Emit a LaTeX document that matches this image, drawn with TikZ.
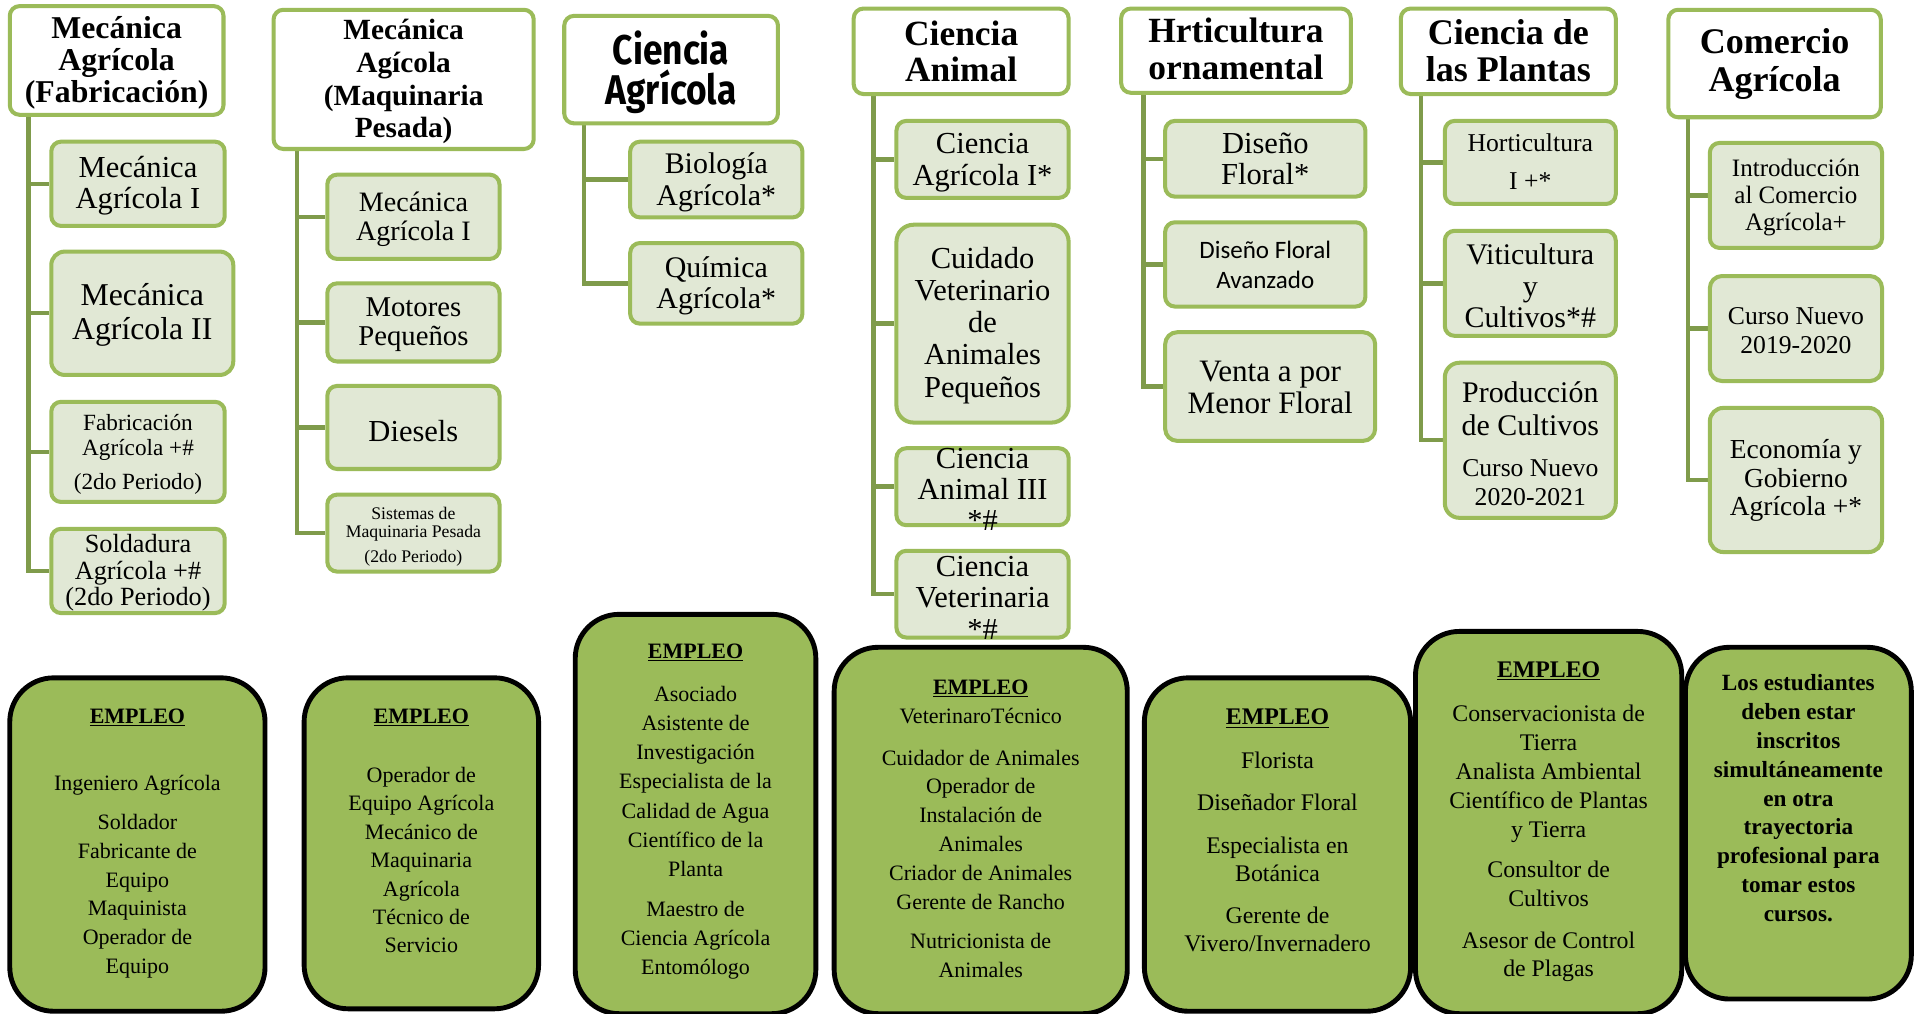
\documentclass[tikz,border=0pt]{standalone}
\usepackage{fontspec}
\setmainfont{Liberation Serif}
\newfontfamily\hsans{Fira Sans}[FakeStretch=0.85]
\newfontfamily\carl{Carlito}
\usetikzlibrary{backgrounds}
\definecolor{lg}{HTML}{9BBB59}
\definecolor{dg}{HTML}{7F9B4B}
\definecolor{cf}{HTML}{E1E8D5}
\newcommand\fs[2]{\fontsize{#1}{#2}\selectfont}
\newcommand\bx[9]{%
  \node[#2, minimum width={#5-#3}, minimum height={#6-#4}] (#1) at ({(#3+#5)/2},{(#4+#6)/2}) {};
  \node[txt, font=#8] (#1t) at ({(#3+#5)/2},{#7+3}) {#9};}
\begin{document}
\begin{tikzpicture}[x=1pt,y=-1pt,
  hdr/.style={draw=lg, fill=white, line width=3.3pt, rounded corners=8pt, inner sep=0pt},
  chl/.style={draw=lg, fill=cf, line width=3.3pt, rounded corners=8pt, inner sep=0pt},
  emp/.style={draw=black, fill=lg, line width=4pt, rounded corners=36pt, inner sep=0pt},
  trunk/.style={draw=dg, line width=3.6pt},
  txt/.style={inner sep=0pt, align=center, text=black}]
\useasboundingbox (0,0) rectangle (1568,830);
% ---------- column 1
\bx{h1}{hdr}{8}{5}{183}{94}{48.5}{\bfseries\fs{26}{26.5}}{Mecánica\\Agrícola\\(Fabricación)}
\bx{c1a}{chl}{42}{116}{184}{185}{149}{\fs{25}{26}}{Mecánica\\Agrícola I}
\bx{c1b}{chl,rounded corners=11pt}{42}{206}{191}{307}{255}{\fs{26}{28}}{Mecánica\\Agrícola II}
\bx{c1c}{chl}{42}{329}{184}{411}{369}{\fs{19}{20}}{Fabricación\\Agrícola +\#\\[8pt](2do Periodo)}
\bx{c1d}{chl}{42}{433}{184}{502}{466}{\fs{21.5}{22}}{Soldadura\\Agrícola +\#\\(2do Periodo)}
% ---------- column 2
\bx{h2}{hdr}{224}{8}{437}{122}{64}{\bfseries\fs{24}{26.7}}{Mecánica\\Agícola\\(Maquinaria\\Pesada)}
\bx{c2a}{chl}{268}{143}{409}{212}{176.5}{\fs{23}{23.5}}{Mecánica\\Agrícola I}
\bx{c2b}{chl}{268}{232}{409}{296}{263}{\fs{23.5}{24}}{Motores\\Pequeños}
\bx{c2c}{chl}{268}{316}{409}{384}{350}{\fs{25}{26}}{Diesels}
\bx{c2d}{chl}{268}{405}{409}{468}{436.5}{\fs{14.5}{15}}{Sistemas de\\Maquinaria Pesada\\[5pt](2do Periodo)}
% ---------- column 3
\bx{h3}{hdr}{462}{13}{637}{101}{56}{\hsans\bfseries\fs{34}{33}}{Ciencia\\Agrícola}
\bx{c3a}{chl}{516}{116}{657}{178}{146}{\fs{24.5}{26}}{Biología\\Agrícola*}
\bx{c3b}{chl}{516}{199}{657}{265}{231}{\fs{24.5}{26}}{Química\\Agrícola*}
% ---------- column 4
\bx{h4}{hdr}{699}{7}{875}{77}{39}{\bfseries\fs{29}{30}}{Ciencia\\Animal}
\bx{c4a}{chl}{734}{99}{875}{162}{130}{\fs{25}{26}}{Ciencia\\Agrícola I*}
\bx{c4b}{chl,rounded corners=14pt}{734}{184}{875}{346}{263.5}{\fs{25}{26.3}}{Cuidado\\Veterinario\\de\\Animales\\Pequeños}
\bx{c4c}{chl}{734}{367}{875}{430}{397.5}{\fs{25}{25.5}}{Ciencia\\Animal III\\*\#}
\bx{c4d}{chl}{734}{451}{875}{522}{486.5}{\fs{25}{25.5}}{Ciencia\\Veterinaria\\*\#}
% ---------- column 5
\bx{h5}{hdr}{918}{7}{1106}{76}{37}{\bfseries\fs{29}{30}}{Hrticultura\\ornamental}
\bx{c5a}{chl}{954}{99}{1118}{161}{127}{\fs{25}{26}}{Diseño\\Floral*}
\bx{c5b}{chl}{954}{182}{1118}{251}{214}{\carl\fs{20.5}{24}}{Diseño Floral\\Avanzado}
\bx{c5c}{chl,rounded corners=10pt}{954}{272}{1126}{361}{314}{\fs{25.5}{26}}{Venta a por\\Menor Floral}
% ---------- column 6
\bx{h6}{hdr}{1147}{7}{1323}{77}{38.5}{\bfseries\fs{29.5}{31}}{Ciencia de\\las Plantas}
\bx{c6a}{chl}{1183}{99}{1323}{167}{129.5}{\fs{21}{22}}{Horticultura\\[9pt]I +*}
\bx{c6b}{chl}{1183}{189}{1323}{275}{231}{\fs{24.5}{26}}{Viticultura\\y\\Cultivos*\#}
\bx{c6c}{chl,rounded corners=12pt}{1183}{297}{1323}{424}{331.5}{\fs{24.5}{27}}{Producción\\de Cultivos}
\node[txt, font=\fs{21}{24}] (c6ct2) at (1253,395) {Curso Nuevo\\2020-2021};
% ---------- column 7
\bx{h7}{hdr}{1366}{8}{1540}{96}{49.5}{\bfseries\fs{29.5}{31}}{Comercio\\Agrícola}
\bx{c7a}{chl}{1400}{117}{1541}{203}{159}{\fs{20.5}{22}}{Introducción\\al Comercio\\Agrícola+}
\bx{c7b}{chl,rounded corners=10pt}{1400}{226}{1541}{312}{268}{\fs{21}{24}}{Curso Nuevo\\2019-2020}
\bx{c7c}{chl,rounded corners=11pt}{1400}{334}{1541}{452}{390.5}{\fs{22.5}{23.5}}{Economía y\\Gobierno\\Agrícola +*}
% ---------- employment boxes
\bx{b1}{emp}{8}{555}{217}{828}{687.5}{\fs{18}{23.5}}{\underline{\textbf{EMPLEO}}\\[31.5pt]Ingeniero Agrícola\\[8.5pt]Soldador\\Fabricante de\\Equipo\\Maquinista\\Operador de\\Equipo}
\bx{b2}{emp}{249}{555}{441}{826}{677.5}{\fs{18}{23.3}}{\underline{\textbf{EMPLEO}}\\[24.7pt]Operador de\\Equipo Agrícola\\Mecánico de\\Maquinaria\\Agrícola\\Técnico de\\Servicio}
\bx{b3}{emp}{471}{503}{668}{830}{661.5}{\fs{18}{23.8}}{\underline{\textbf{EMPLEO}}\\[12pt]Asociado\\Asistente de\\Investigación\\Especialista de la\\Calidad de Agua\\Científico de la\\Planta\\[9.5pt]Maestro de\\Ciencia Agrícola\\Entomólogo}
\bx{b4}{emp}{683}{530}{923}{830}{675.5}{\fs{18}{23.6}}{\underline{\textbf{EMPLEO}}\\VeterinaroTécnico\\[10.4pt]Cuidador de Animales\\Operador de\\Instalación de\\Animales\\Criador de Animales\\Gerente de Rancho\\[8.4pt]Nutricionista de\\Animales}
\bx{b5}{emp}{937}{555}{1155}{828}{677}{\fs{19.5}{23.3}}{\underline{\textbf{EMPLEO}}\\[12.7pt]Florista\\[10.7pt]Diseñador Floral\\[11.7pt]Especialista en\\Botánica\\[10.7pt]Gerente de\\Vivero/Invernadero}
\bx{b6}{emp}{1159}{517}{1377}{830}{670}{\fs{19.5}{23.7}}{\underline{\textbf{EMPLEO}}\\[12.3pt]Conservacionista de\\Tierra\\Analista Ambiental\\Científico de Plantas\\y Tierra\\[9.3pt]Consultor de\\Cultivos\\[10.3pt]Asesor de Control\\de Plagas}
\bx{b7}{emp}{1380}{530}{1565}{818}{650.5}{\bfseries\fs{19}{23.6}}{Los estudiantes\\deben estar\\inscritos\\simultáneamente\\en otra\\trayectoria\\profesional para\\tomar estos\\cursos.}
% ---------- connectors
\begin{scope}[on background layer]
\fill[white] (0,0) rectangle (1568,830);
\foreach \c in {c1a,c1b,c1c,c1d} \draw[trunk] ([xshift=17pt]h1.south west) |- (\c.west);
\foreach \c in {c2a,c2b,c2c,c2d} \draw[trunk] ([xshift=21pt]h2.south west) |- (\c.west);
\foreach \c in {c3a,c3b} \draw[trunk] ([xshift=18pt]h3.south west) |- (\c.west);
\foreach \c in {c4a,c4b,c4c,c4d} \draw[trunk] ([xshift=18pt]h4.south west) |- (\c.west);
\foreach \c in {c5a,c5b,c5c} \draw[trunk] ([xshift=20pt]h5.south west) |- (\c.west);
\foreach \c in {c6a,c6b,c6c} \draw[trunk] ([xshift=18pt]h6.south west) |- (\c.west);
\foreach \c in {c7a,c7b,c7c} \draw[trunk] ([xshift=18pt]h7.south west) |- (\c.west);
\end{scope}
\end{tikzpicture}
\end{document}
